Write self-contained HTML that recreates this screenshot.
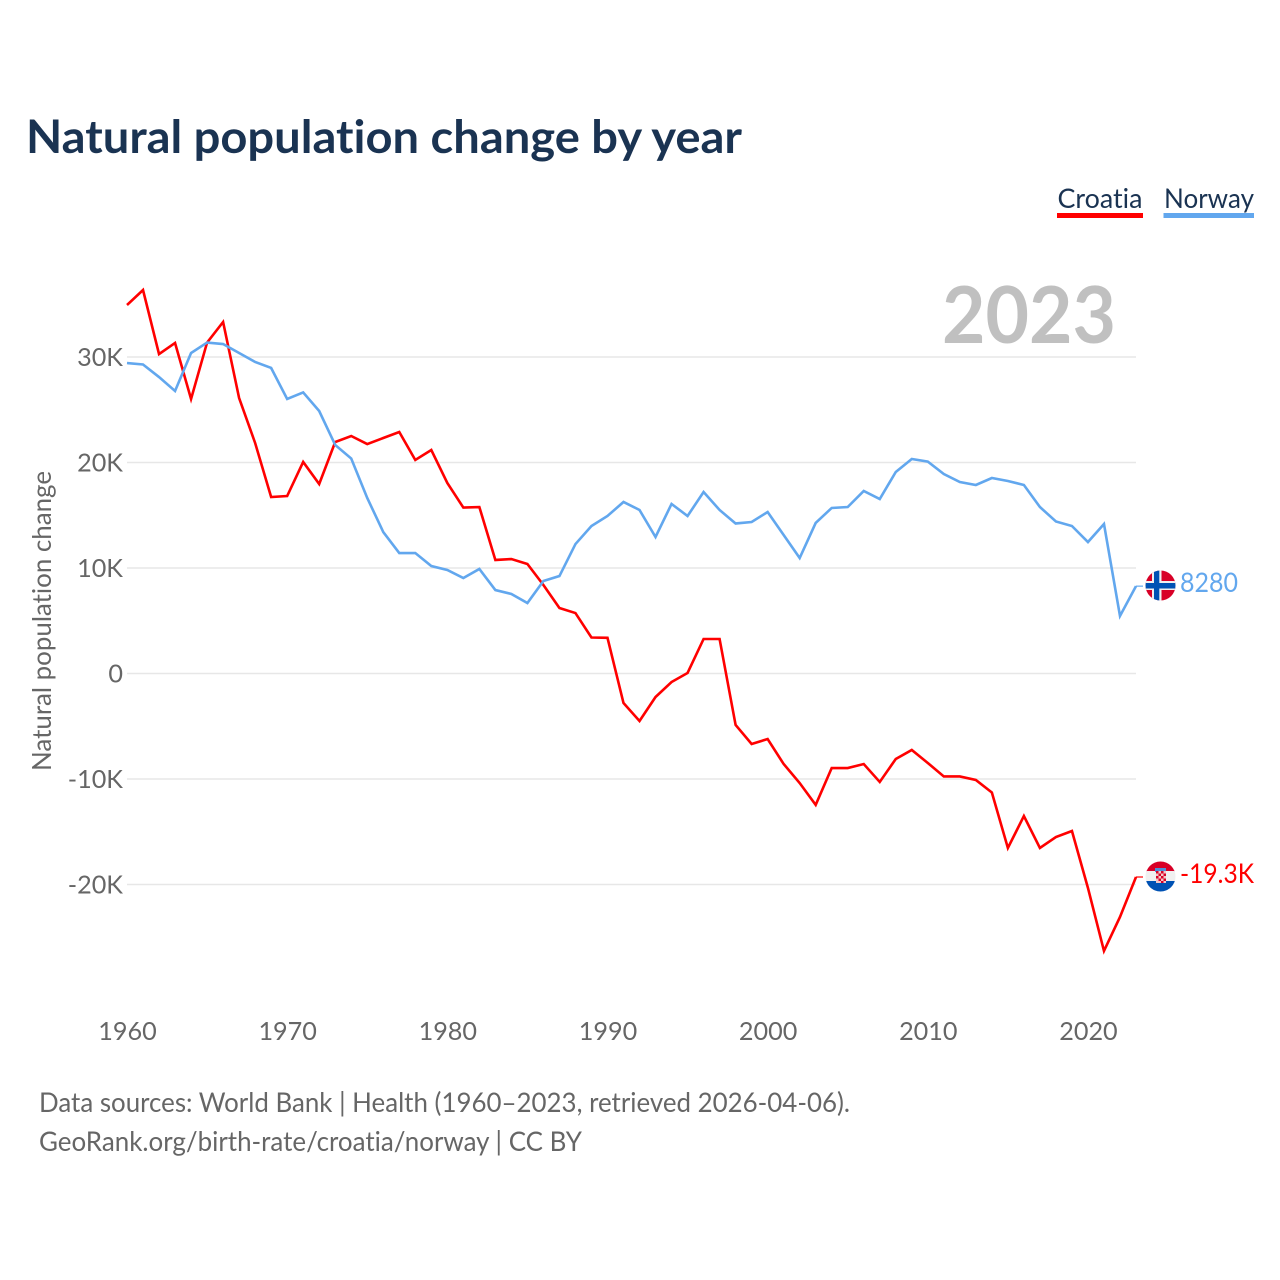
<!DOCTYPE html>
<html lang="en">
<head>
<meta charset="utf-8">
<title>Natural population change by year</title>
<style>
html,body{margin:0;padding:0;background:#fff;width:1280px;height:1280px;overflow:hidden}
svg{display:block}
text{font-family:"Lato","Carlito","Liberation Sans",sans-serif;font-variant-ligatures:none}
</style>
</head>
<body>
<svg id="chart" xmlns="http://www.w3.org/2000/svg" width="1280" height="1280" viewBox="0 0 1280 1280">
  <defs>
    <clipPath id="flag-clip-no"><circle cx="1160.500" cy="585.500" r="15"/></clipPath>
    <clipPath id="flag-clip-hr"><circle cx="1160.500" cy="876.500" r="15"/></clipPath>
  </defs>
  <text x="26" y="153" font-size="46" font-weight="700" fill="#1a3352" textLength="716" lengthAdjust="spacingAndGlyphs">Natural population change by year</text>

  <g>
    <g>
      <text x="1057.500" y="208" font-size="27" fill="#1a3352" textLength="85" lengthAdjust="spacingAndGlyphs">Croatia</text>
      <rect x="1057" y="213" width="86" height="5" fill="#ff0000"/>
    </g>
    <g>
      <text x="1164" y="208" font-size="27" fill="#1a3352" textLength="90" lengthAdjust="spacingAndGlyphs">Norway</text>
      <rect x="1163.500" y="213" width="90.500" height="5" fill="#62a7ee"/>
    </g>
  </g>

  <text x="1116" y="343" font-size="79" font-weight="700" fill="#c0c0c0" text-anchor="end" textLength="174" lengthAdjust="spacingAndGlyphs">2023</text>
  <g id="grid"></g>
  <g id="y-ticks"></g>
  <g id="x-ticks"></g>
  <text transform="translate(51 621) rotate(-90)" font-size="26" fill="#666666" text-anchor="middle" textLength="300" lengthAdjust="spacingAndGlyphs">Natural population change</text>
  <g id="series"></g>

  <g clip-path="url(#flag-clip-no)">
    <rect x="1145" y="570" width="31" height="31" fill="#d80027"/>
    <rect x="1152" y="570" width="9.500" height="31" fill="#f0f0f0"/>
    <rect x="1145" y="581" width="31" height="9" fill="#f0f0f0"/>
    <rect x="1154" y="570" width="5.300" height="31" fill="#0052b4"/>
    <rect x="1145" y="583" width="31" height="5.500" fill="#0052b4"/>
  </g>
  <g clip-path="url(#flag-clip-hr)">
    <rect x="1145" y="861" width="31" height="11" fill="#d80027"/>
    <rect x="1145" y="871" width="31" height="11" fill="#f0f0f0"/>
    <rect x="1145" y="881" width="31" height="11" fill="#0052b4"/>
    <rect x="1155" y="868" width="11" height="4" fill="#4f8fd8"/>
    <rect x="1156" y="871" width="10" height="12" fill="#f3c6c6"/>
    <path d="M1156 871h2.500v2.500h-2.500zM1161 871h2.500v2.500h-2.500zM1158.500 873.500h2.500v2.500h-2.500zM1163.500 873.500h2.500v2.500h-2.500zM1156 876h2.500v2.500h-2.500zM1161 876h2.500v2.500h-2.500zM1158.500 878.500h2.500v2.500h-2.500zM1163.500 878.500h2.500v2.500h-2.500zM1161 881h2.500v2h-2.500z" fill="#d80027"/>
  </g>
  <text x="1180" y="592" font-size="27" fill="#62a7ee" textLength="58" lengthAdjust="spacingAndGlyphs">8280</text>
  <text x="1180" y="883" font-size="27" fill="#ff0000" textLength="74" lengthAdjust="spacingAndGlyphs">-19.3K</text>

  <text x="39" y="1112" font-size="27" fill="#666666" textLength="811" lengthAdjust="spacingAndGlyphs">Data sources: World Bank | Health (1960–2023, retrieved 2026-04-06).</text>
  <text x="39" y="1151" font-size="27" fill="#666666" textLength="543" lengthAdjust="spacingAndGlyphs">GeoRank.org/birth-rate/croatia/norway | CC BY</text>
</svg>
<script>
const startYear = 1960;
const croatiaValues = [34.93,36.35,30.28,31.33,26.02,31.37,33.32,26.11,21.85,16.73,16.82,20.05,17.96,21.94,22.51,21.75,22.32,22.89,20.24,21.18,18.06,15.73,15.78,10.76,10.85,10.38,8.39,6.21,5.73,3.41,3.38,-2.80,-4.50,-2.23,-0.81,0.05,3.27,3.27,-4.88,-6.68,-6.21,-8.58,-10.38,-12.46,-8.96,-8.96,-8.58,-10.28,-8.10,-7.25,-8.48,-9.76,-9.76,-10.09,-11.28,-16.54,-13.51,-16.54,-15.50,-14.93,-20.33,-26.30,-23.08,-19.29];
const norwayValues = [29.43,29.29,28.10,26.78,30.38,31.37,31.23,30.38,29.53,28.96,26.02,26.64,24.88,21.66,20.38,16.64,13.41,11.42,11.42,10.19,9.81,9.05,9.91,7.91,7.54,6.68,8.77,9.24,12.27,13.98,14.93,16.26,15.50,12.94,16.07,14.93,17.20,15.50,14.22,14.36,15.31,13.13,10.95,14.27,15.69,15.78,17.30,16.54,19.10,20.33,20.09,18.91,18.15,17.87,18.53,18.25,17.87,15.78,14.41,13.98,12.46,14.17,5.45,8.28];
const yTickValues = [30,20,10,0,-10,-20];
const yTickLabels = ['30K','20K','10K','0','-10K','-20K'];
const xTickYears = [1960,1970,1980,1990,2000,2010,2020];

const NS = 'http://www.w3.org/2000/svg';
const xScale = function (year) { return 127 + (year - 1960) * 16.016; };
const yScale = function (k) { return 673.5 - k * 10.55; };

function make(tag, attrs, parent) {
  const el = document.createElementNS(NS, tag);
  Object.keys(attrs).forEach(function (k) { el.setAttribute(k, attrs[k]); });
  parent.appendChild(el);
  return el;
}

const grid = document.getElementById('grid');
const yTicks = document.getElementById('y-ticks');
yTickValues.forEach(function (v, i) {
  const line = make('line', {x1: 127, x2: 1136, y1: yScale(v), y2: yScale(v), stroke: '#e7e7e7', 'stroke-width': 1.4}, grid);
  
  
  const label = make('text', {x: 123, y: yScale(v) + 9, 'font-size': 25.2, fill: '#666666', 'text-anchor': 'end'}, yTicks);
  label.textContent = yTickLabels[i];
  
  
});

const xTicks = document.getElementById('x-ticks');
xTickYears.forEach(function (yr) {
  const label = make('text', {x: xScale(yr) + 0.5, y: 1040, 'font-size': 25.2, fill: '#666666', 'text-anchor': 'middle'}, xTicks);
  label.textContent = String(yr);
  
  
});

const seriesGroup = document.getElementById('series');
function pathFor(values) {
  return values.map(function (v, i) {
    return (i ? 'L' : 'M') + xScale(startYear + i).toFixed(2) + ' ' + yScale(v).toFixed(2);
  }).join('');
}
function endX(values) { return xScale(startYear + values.length - 1); }
function endY(values) { return yScale(values[values.length - 1]); }

const croatiaLine = make('path', {d: pathFor(croatiaValues), fill: 'none', stroke: '#ff0000', 'stroke-width': 2.6, 'stroke-linejoin': 'miter'}, seriesGroup);


const norwayLine = make('path', {d: pathFor(norwayValues), fill: 'none', stroke: '#62a7ee', 'stroke-width': 2.6, 'stroke-linejoin': 'miter'}, seriesGroup);



const croatiaLeader = make('line', {x1: endX(croatiaValues), x2: 1143, y1: endY(croatiaValues), y2: endY(croatiaValues), stroke: '#ff0000', 'stroke-width': 1.2}, seriesGroup);


const norwayLeader = make('line', {x1: endX(norwayValues), x2: 1143, y1: endY(norwayValues), y2: endY(norwayValues), stroke: '#62a7ee', 'stroke-width': 1.2}, seriesGroup);


</script>
</body>
</html>
